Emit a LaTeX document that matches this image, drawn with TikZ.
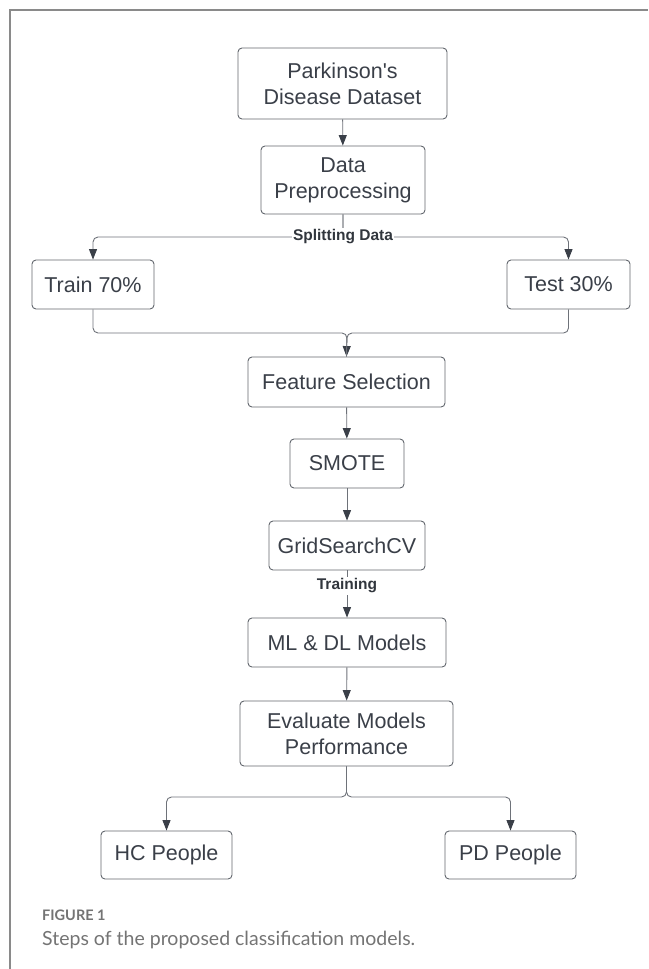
\documentclass[tikz,border=0pt]{standalone}
\usepackage{fontspec}
\setmainfont{Liberation Sans}
\newfontfamily\boxfont{Liberation Sans}
\newfontfamily\capfont{Lato}
\usetikzlibrary{arrows.meta}
\definecolor{boxline}{HTML}{62666D}
\definecolor{txt}{HTML}{3A3F48}
\definecolor{connc}{HTML}{6E7279}
\definecolor{framec}{HTML}{8A8A8A}
\definecolor{capgray}{HTML}{747474}
\begin{document}
\begin{tikzpicture}[x=1pt,y=-1pt,
  box/.style={draw=boxline, line width=0.9pt, rounded corners=4pt, text=txt,
    font=\boxfont\fontsize{21.5}{26}\selectfont, align=center, inner sep=0pt},
  link/.style={draw=connc, line width=0.9pt, rounded corners=5pt},
  arr/.style={link, -{Triangle[length=10.5pt,width=8pt,color=txt]}},
  lbl/.style={fill=white, font=\boxfont\bfseries\fontsize{15.5}{18}\selectfont, text=txt!85!black, inner sep=1.5pt}
]
\useasboundingbox (0,0) rectangle (648,969);
\draw[framec, line width=2pt] (9.5,969) -- (9.5,10) -- (648,10);

\node[box, minimum width=209pt, minimum height=71pt] (pd) at (342.5,83.5) {Parkinson's\\Disease Dataset};
\node[box, minimum width=164pt, minimum height=68pt] (prep) at (343,180) {Data\\Preprocessing};
\node[box, minimum width=122pt, minimum height=49pt] (train) at (93,284.5) {Train 70\%};
\node[box, minimum width=123pt, minimum height=49pt] (test) at (568.5,284.5) {Test 30\%};
\node[box, minimum width=197pt, minimum height=50pt] (feat) at (346.5,382) {Feature Selection};
\node[box, minimum width=114pt, minimum height=49pt] (smote) at (347,463.5) {SMOTE};
\node[box, minimum width=156pt, minimum height=49pt] (grid) at (347,545.5) {GridSearchCV};
\node[box, minimum width=198pt, minimum height=49pt] (ml) at (347,642.5) {ML \& DL Models};
\node[box, minimum width=213pt, minimum height=65pt] (eval) at (346.5,733.5) {Evaluate Models\\Performance};
\node[box, minimum width=131pt, minimum height=48pt] (hc) at (166.5,855) {HC People};
\node[box, minimum width=131pt, minimum height=48pt] (pdp) at (510.5,855) {PD People};

\coordinate (split) at (343,237);
\coordinate (merge) at (347,333);
\coordinate (evsplit) at (346.5,797);

\draw[arr] (pd) -- (prep);
\draw[arr] (prep.south) -- (split) -| (train.north);
\draw[arr] (prep.south) -- (split) -| (test.north);
\node[lbl] (splitlbl) at (split) {Splitting Data};

\draw[arr] (train.south) |- (merge) -- (feat.north);
\draw[link] (test.south) |- (merge) -- (feat.north);

\draw[arr] (feat) -- (smote);
\draw[arr] (smote) -- (grid);
\draw[arr] (grid) -- (ml);
\node[lbl] (trainlbl) at (347,586) {Training};
\draw[arr] (ml) -- (eval);
\draw[arr] (eval.south) -- (evsplit) -| (hc.north);
\draw[arr] (eval.south) -- (evsplit) -| (pdp.north);

\node[anchor=west, inner sep=0pt, font=\capfont\bfseries\fontsize{14.5}{17}\selectfont, text=capgray] (figlbl) at (42,915) {FIGURE 1};
\node[anchor=west, inner sep=0pt, font=\capfont\fontsize{19.5}{23}\selectfont, text=capgray] (cap) at (42,940) {Steps of the proposed classification models.};
\end{tikzpicture}
\end{document}
